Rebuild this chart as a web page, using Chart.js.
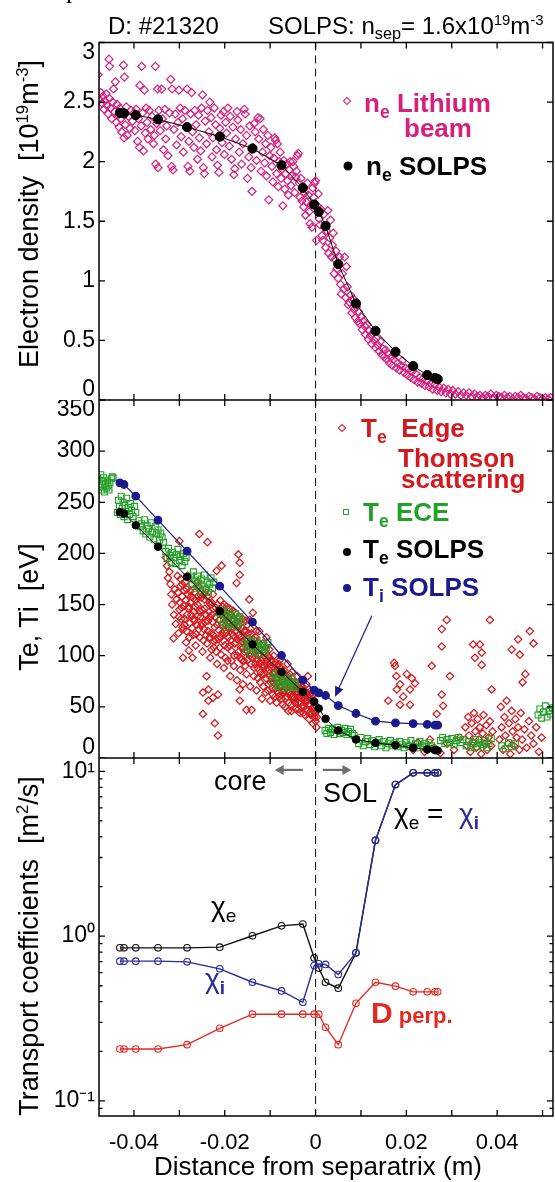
<!DOCTYPE html>
<html>
<head>
<meta charset="utf-8">
<script src="https://cdn.jsdelivr.net/npm/chart.js@4.4.1/dist/chart.umd.min.js"></script>
<style>
  html, body { margin: 0; padding: 0; background: #fff; }
  #fig { position: relative; width: 555px; height: 1182px; overflow: hidden;
         font-family: "Liberation Sans", Arial, sans-serif; color: #000; }
  canvas { position: absolute; left: 0; }
  .t { position: absolute; white-space: nowrap; line-height: 1; z-index: 2; }
  .b { font-weight: bold; }
  .sb { font-size: 0.68em; position: relative; top: 0.32em; }
  .sp { font-size: 0.62em; position: relative; top: -0.6em; }
  .yt { position: absolute; white-space: nowrap; line-height: 1; font-size: 27px;
        transform: translate(-50%, -50%) rotate(-90deg); z-index: 2; }
  .mk { position: absolute; z-index: 2; transform: translate(-50%, -50%); box-sizing: border-box; }
  .dia { width: 6px; height: 6px; border: 1.3px solid; transform: translate(-50%, -50%) rotate(45deg); }
  .sq { width: 6px; height: 6px; border: 1.2px solid; }
  .dot { width: 9px; height: 9px; border-radius: 50%; }
</style>
</head>
<body>
<div id="fig">
  <canvas id="c1" width="555" height="400" style="top:0px"></canvas>
  <canvas id="c2" width="555" height="358" style="top:400px"></canvas>
  <canvas id="c3" width="555" height="424" style="top:758px"></canvas>

  <div class="t" style="left:66px;top:-25px;font:26px 'Liberation Serif',serif;">p</div>
  <div class="t" style="left:108px;top:14px;font-size:24px;">D: #21320</div>
  <div class="t" style="left:268px;top:14px;font-size:24px;">SOLPS: n<span class="sb">sep</span>= 1.6x10<span class="sp">19</span>m<span class="sp">-3</span></div>

  <div class="yt" style="left:29px;top:214px;">Electron density&nbsp;&nbsp;[10<span class="sp">19</span>m<span class="sp">-3</span>]</div>
  <div class="yt" style="left:29px;top:607px;">Te, Ti&nbsp;&nbsp;[eV]</div>
  <div class="yt" style="left:29px;top:946px;">Transport coefficients&nbsp;&nbsp;[m<span class="sp">2</span>/s]</div>
  <div class="t" style="left:318px;top:1153px;font-size:26px;transform:translateX(-50%);">Distance from separatrix (m)</div>

  <!-- panel 1 legend -->
  <div class="mk dia" style="left:347px;top:101px;border-color:#d6207c;"></div>
  <div class="t b" style="left:364px;top:90px;font-size:26px;color:#d6207c;">n<span class="sb">e</span>&nbsp;Lithium</div>
  <div class="t b" style="left:404px;top:115px;font-size:26px;color:#d6207c;">beam</div>
  <div class="mk dot" style="left:348px;top:166px;background:#000;"></div>
  <div class="t b" style="left:366px;top:153px;font-size:26px;">n<span class="sb">e</span>&nbsp;SOLPS</div>

  <!-- panel 2 legend -->
  <div class="mk dia" style="left:342px;top:428px;border-color:#d41a1f;"></div>
  <div class="t b" style="left:361px;top:415px;font-size:26px;color:#d41a1f;">T<span class="sb">e</span>&nbsp;&nbsp;Edge</div>
  <div class="t b" style="left:398px;top:445px;font-size:26px;color:#d41a1f;">Thomson</div>
  <div class="t b" style="left:401px;top:466px;font-size:26px;color:#d41a1f;">scattering</div>
  <div class="mk sq" style="left:346px;top:512px;border-color:#22a027;"></div>
  <div class="t b" style="left:363px;top:499px;font-size:26px;color:#22a027;">T<span class="sb">e</span>&nbsp;ECE</div>
  <div class="mk dot" style="left:347px;top:552px;width:8px;height:8px;background:#000;"></div>
  <div class="t b" style="left:363px;top:536px;font-size:26px;">T<span class="sb">e</span>&nbsp;SOLPS</div>
  <div class="mk dot" style="left:347px;top:588px;width:8px;height:8px;background:#1a1a8c;"></div>
  <div class="t b" style="left:363px;top:574px;font-size:26px;color:#1a1a8c;">T<span class="sb">i</span>&nbsp;SOLPS</div>

  <!-- panel 3 labels -->
  <div class="t" style="left:214px;top:768px;font-size:27px;">core</div>
  <div class="t" style="left:323px;top:780px;font-size:27px;">SOL</div>
  <div class="t" style="left:394px;top:800px;font-size:28px;">χ<span class="sb">e</span> =&nbsp;&nbsp;<span style="color:#2a2a9a;">χ<span class="sb b">i</span></span></div>
  <div class="t" style="left:211px;top:893px;font-size:28px;">χ<span class="sb">e</span></div>
  <div class="t" style="left:205px;top:965px;font-size:28px;color:#2a2a9a;">χ<span class="sb b">i</span></div>
  <div class="t b" style="left:371px;top:998px;font-size:30px;color:#e32a22;">D<span style="font-size:22px;"> perp.</span></div>
</div>

<script>
// ---- tick positions / labels ----
const xTicks = [-0.04, -0.03, -0.02, -0.01, 0, 0.01, 0.02, 0.03, 0.04, 0.05];
const xTickText = ['-0.04', '', '-0.02', '', '0', '', '0.02', '', '0.04', ''];
const neTicks = [0, 0.5, 1, 1.5, 2, 2.5, 3];
const neTickText = [['0', ''], '0.5', '1', '1.5', '2', '2.5', ['', '3']];
const tTicks = [0, 50, 100, 150, 200, 250, 300, 350];
const tTickText = [['0', ''], '50', '100', '150', '200', '250', '300', ['', '350']];
const logTicks = [0.09, 0.1, 0.2, 0.3, 0.4, 0.5, 0.6, 0.7, 0.8, 0.9, 1, 2, 3, 4, 5, 6, 7, 8, 9, 10];
const logTickText = ['', '10⁻¹', '', '', '', '', '', '', '', '', '10⁰', '', '', '', '', '', '', '', '', '10¹'];
const logMajor = [0.1, 1, 10];

// ---- SOLPS radial grid and profiles ----
const solpsX = [-0.0431, -0.0422, -0.0396, -0.0347, -0.0283, -0.0211, -0.0139, -0.0075, -0.0028, -0.0003,
                0.0007, 0.0022, 0.0050, 0.0089, 0.0132, 0.0176, 0.0215, 0.0246, 0.0263, 0.0269];
const neSolps = [2.41, 2.405, 2.39, 2.355, 2.29, 2.21, 2.11, 1.97, 1.78, 1.64,
                 1.58, 1.46, 1.14, 0.81, 0.58, 0.405, 0.285, 0.21, 0.185, 0.175];
const teSolps = [240.3, 239.0, 227.6, 206.5, 177.1, 143.6, 111.0, 84.2, 64.7, 55.2,
                 48.4, 38.3, 26.9, 18.1, 14.8, 12.5, 9.9, 8.3, 7.7, 7.3];
const tiSolps = [269.0, 267.4, 256.0, 232.5, 202.2, 168.0, 132.8, 100.2, 76.1, 66.3,
                 63.7, 61.1, 51.3, 43.5, 36.0, 34.4, 33.7, 32.8, 32.1, 32.1];
const chiE = [0.849, 0.849, 0.849, 0.849, 0.849, 0.857, 1.005, 1.155, 1.183, 0.738,
              0.64, 0.525, 0.483, 0.792, 3.815, 8.31, 9.79, 9.79, 9.79, 9.79];
const chiI = [0.705, 0.705, 0.705, 0.705, 0.698, 0.633, 0.525, 0.465, 0.397, 0.663,
              0.679, 0.673, 0.585, 0.792, 3.815, 8.31, 9.79, 9.79, 9.79, 9.79];
const dPerp = [0.2066, 0.2066, 0.2066, 0.2066, 0.2195, 0.276, 0.336, 0.336, 0.336, 0.336,
               0.336, 0.280, 0.2195, 0.391, 0.525, 0.497, 0.459, 0.459, 0.459, 0.459];

// ---- Lithium beam ne [x (m), ne (1e19 m^-3)] ----
const liBeam = [
  [-0.0479,2.73],[-0.0476,2.52],[-0.0473,2.58],[-0.0470,2.49],[-0.0468,2.55],[-0.0466,2.44],[-0.0464,2.51],[-0.0461,2.57],
  [-0.0459,2.47],[-0.0457,2.40],[-0.0455,2.86],[-0.0454,2.80],[-0.0454,2.53],[-0.0451,2.45],[-0.0449,2.36],[-0.0447,2.50],
  [-0.0445,2.61],[-0.0443,2.42],[-0.0441,2.67],[-0.0439,2.33],[-0.0437,2.48],[-0.0435,2.39],[-0.0433,2.29],[-0.0431,2.45],
  [-0.0429,2.36],[-0.0427,2.25],[-0.0425,2.42],[-0.0423,2.81],[-0.0422,2.20],[-0.0421,2.71],[-0.0419,2.31],[-0.0417,2.46],
  [-0.0415,2.22],[-0.0412,2.38],[-0.0409,2.28],[-0.0406,2.43],[-0.0403,2.34],[-0.0400,2.41],
  [-0.0398,2.26],[-0.0395,2.44],[-0.0392,2.17],[-0.0390,2.36],[-0.0388,2.12],[-0.0387,2.64],[-0.0384,2.30],[-0.0383,2.80],
  [-0.0381,2.41],[-0.0379,2.09],[-0.0377,2.60],[-0.0375,2.24],[-0.0373,2.45],[-0.0371,2.33],[-0.0369,2.19],[-0.0366,2.43],
  [-0.0363,2.27],[-0.0360,2.38],[-0.0357,2.15],[-0.0355,2.22],[-0.0353,2.80],[-0.0352,1.98],[-0.0350,2.32],[-0.0348,2.61],
  [-0.0347,1.95],[-0.0345,2.43],[-0.0342,2.26],[-0.0339,2.61],[-0.0337,2.36],[-0.0335,2.10],[-0.0332,2.44],[-0.0330,2.19],
  [-0.0328,2.30],[-0.0325,2.05],[-0.0322,2.41],[-0.0319,2.69],[-0.0317,1.96],[-0.0316,2.61],[-0.0314,1.93],[-0.0312,2.27],
  [-0.0309,2.40],[-0.0306,2.14],[-0.0303,2.33],[-0.0301,2.60],
  [-0.0298,2.45],[-0.0296,2.21],[-0.0293,2.36],[-0.0291,2.08],[-0.0288,2.43],[-0.0285,2.29],[-0.0283,2.61],[-0.0281,1.96],
  [-0.0279,2.17],[-0.0277,1.92],[-0.0275,2.40],[-0.0273,2.58],[-0.0271,2.25],[-0.0268,2.12],[-0.0266,2.43],[-0.0263,2.31],
  [-0.0260,2.02],[-0.0258,2.39],[-0.0256,2.20],[-0.0253,2.09],[-0.0251,2.45],[-0.0249,2.56],[-0.0247,1.95],[-0.0245,1.90],
  [-0.0243,2.34],[-0.0240,2.15],[-0.0238,2.43],[-0.0235,2.25],[-0.0233,2.50],[-0.0230,2.37],[-0.0228,2.04],[-0.0226,2.20],
  [-0.0223,2.45],[-0.0220,2.31],[-0.0218,2.10],[-0.0216,1.97],[-0.0213,1.91],[-0.0211,2.28],[-0.0208,2.39],[-0.0206,2.16],
  [-0.0203,2.42],[-0.0201,2.06],
  [-0.0198,2.33],[-0.0196,2.24],[-0.0193,2.45],[-0.0190,2.13],[-0.0188,2.38],[-0.0185,2.02],[-0.0182,2.29],[-0.0180,1.89],
  [-0.0178,1.94],[-0.0176,2.19],[-0.0173,2.42],[-0.0171,2.35],[-0.0168,2.08],[-0.0165,2.27],[-0.0163,1.98],[-0.0160,2.15],
  [-0.0157,2.44],[-0.0155,2.40],[-0.0152,2.22],[-0.0150,1.86],[-0.0147,2.04],[-0.0145,2.30],[-0.0142,1.95],[-0.0140,1.75],
  [-0.0138,2.12],[-0.0135,2.32],[-0.0133,2.25],[-0.0130,2.01],[-0.0127,2.37],[-0.0125,2.19],[-0.0122,2.36],[-0.0120,1.92],
  [-0.0117,2.08],[-0.0115,2.27],[-0.0112,1.99],[-0.0110,2.15],[-0.0108,1.88],[-0.0105,2.22],[-0.0103,1.68],[-0.0101,2.05],
  [-0.0098,2.12],[-0.0096,1.96],[-0.0094,1.83],[-0.0092,2.03],[-0.0090,2.20],[-0.0088,2.18],[-0.0086,1.90],[-0.0084,2.15],
  [-0.0082,1.79],[-0.0080,2.00],[-0.0078,2.08],[-0.0076,1.86],[-0.0074,1.94],[-0.0072,1.63],[-0.0070,2.01],[-0.0068,1.77],
  [-0.0066,1.90],[-0.0064,1.98],[-0.0062,1.84],[-0.0060,1.72],[-0.0058,1.93],[-0.0056,2.00],[-0.0054,1.80],[-0.0052,1.88],
  [-0.0050,2.00],[-0.0048,1.96],[-0.0046,1.74],[-0.0044,1.87],[-0.0042,1.92],[-0.0040,2.05],[-0.0038,2.07],[-0.0036,1.82],
  [-0.0034,1.70],[-0.0032,1.86],[-0.0030,1.67],[-0.0028,1.78],[-0.0026,1.62],[-0.0024,1.74],[-0.0022,1.55],[-0.0020,1.66],
  [-0.0018,1.82],[-0.0016,1.72],[-0.0014,1.58],[-0.0012,1.48],[-0.0010,1.64],[-0.0008,1.45],[-0.0006,1.78],[-0.0004,1.70],
  [-0.0002,1.82],[0.0000,1.84],
  [0.0002,1.34],[0.0004,1.63],[0.0006,1.73],[0.0008,1.52],[0.0010,1.47],[0.0012,1.60],[0.0014,1.38],[0.0016,1.34],
  [0.0018,1.56],[0.0020,1.45],[0.0022,1.28],[0.0024,1.42],[0.0027,1.59],[0.0029,1.23],[0.0031,1.36],[0.0033,1.51],
  [0.0035,1.20],[0.0037,1.30],[0.0039,1.40],[0.0041,1.06],[0.0043,1.18],[0.0045,1.25],[0.0047,1.10],[0.0050,1.02],
  [0.0053,1.20],[0.0055,0.97],[0.0057,0.89],[0.0059,1.06],[0.0062,0.93],[0.0064,1.20],[0.0066,0.86],[0.0068,1.12],
  [0.0070,0.95],[0.0072,0.80],[0.0075,0.82],[0.0077,0.88],[0.0080,0.73],[0.0083,0.85],[0.0085,0.76],[0.0088,0.69],
  [0.0090,0.78],[0.0093,0.66],[0.0095,0.74],[0.0097,0.64],[0.0100,0.70],
  [0.0103,0.59],[0.0105,0.66],[0.0108,0.62],[0.0110,0.55],[0.0113,0.63],[0.0116,0.51],[0.0118,0.58],[0.0121,0.54],
  [0.0124,0.47],[0.0126,0.56],[0.0129,0.50],[0.0132,0.44],[0.0134,0.52],[0.0137,0.46],[0.0140,0.41],[0.0143,0.49],
  [0.0146,0.38],[0.0148,0.43],[0.0151,0.36],[0.0154,0.42],[0.0157,0.34],[0.0160,0.39],[0.0163,0.31],[0.0166,0.36],
  [0.0169,0.29],[0.0172,0.34],[0.0175,0.38],[0.0178,0.27],[0.0181,0.31],[0.0185,0.25],[0.0188,0.29],[0.0191,0.33],
  [0.0195,0.23],[0.0198,0.27],
  [0.0202,0.21],[0.0205,0.26],[0.0209,0.19],[0.0213,0.24],[0.0217,0.17],[0.0221,0.22],[0.0225,0.15],[0.0229,0.19],
  [0.0233,0.14],[0.0237,0.18],[0.0241,0.12],[0.0245,0.16],[0.0250,0.11],[0.0254,0.14],[0.0258,0.09],[0.0263,0.13],
  [0.0268,0.08],[0.0272,0.11],[0.0277,0.07],[0.0282,0.10],[0.0287,0.06],[0.0292,0.09],[0.0297,0.05],[0.0302,0.08],
  [0.0308,0.05],[0.0314,0.07],[0.0320,0.04],[0.0326,0.06],[0.0332,0.04],[0.0338,0.06],[0.0344,0.03],
  [0.0350,0.05],[0.0356,0.03],[0.0362,0.04],[0.0368,0.02],[0.0374,0.04],[0.0380,0.03],[0.0386,0.05],[0.0392,0.02],
  [0.0398,0.04],[0.0404,0.03],[0.0410,0.02],[0.0416,0.04],[0.0422,0.02],[0.0428,0.03],[0.0434,0.01],[0.0440,0.03],
  [0.0446,0.02],[0.0452,0.04],[0.0458,0.02],[0.0464,0.01],[0.0470,0.03],[0.0476,0.02],[0.0482,0.01],[0.0488,0.03],
  [0.0494,0.02],[0.0500,0.01],[0.0506,0.02],[0.0512,0.01],[0.0518,0.02]
];

// ---- Edge Thomson scattering Te [x (m), eV] ----
const thomson = [
  [-0.0330,196],[-0.0327,188],[-0.0325,176],[-0.0322,182],[-0.0320,170],[-0.0318,160],[-0.0316,150],[-0.0313,117],
  [-0.0312,140],[-0.0310,165],[-0.0308,131],[-0.0306,155],[-0.0304,178],[-0.0302,122],[-0.0300,212],[-0.0300,145],
  [-0.0298,168],[-0.0296,136],[-0.0294,158],[-0.0292,98],[-0.0291,126],[-0.0289,149],[-0.0287,172],[-0.0285,113],
  [-0.0283,140],[-0.0281,160],[-0.0279,105],[-0.0277,132],[-0.0275,152],[-0.0273,170],[-0.0271,98],[-0.0270,120],
  [-0.0268,143],[-0.0266,162],[-0.0264,110],[-0.0262,130],[-0.0260,150],[-0.0258,168],[-0.0256,219],[-0.0255,118],
  [-0.0253,138],[-0.0251,157],[-0.0249,104],[-0.0248,64],[-0.0248,43],[-0.0246,126],[-0.0244,146],[-0.0242,165],
  [-0.0240,80],[-0.0239,112],[-0.0238,211],[-0.0237,134],[-0.0236,67],[-0.0236,56],[-0.0234,152],[-0.0232,98],
  [-0.0230,122],[-0.0228,140],[-0.0226,59],[-0.0226,160],[-0.0224,108],[-0.0222,34],[-0.0222,128],[-0.0220,147],
  [-0.0218,183],[-0.0217,92],[-0.0215,62],[-0.0215,22],[-0.0214,116],[-0.0212,135],[-0.0210,154],[-0.0208,101],
  [-0.0207,188],[-0.0206,122],[-0.0204,142],[-0.0202,88],[-0.0200,110],
  [-0.0198,130],[-0.0196,148],[-0.0194,95],[-0.0192,118],[-0.0190,137],[-0.0188,80],[-0.0186,105],[-0.0184,126],
  [-0.0182,144],[-0.0180,90],[-0.0178,112],[-0.0176,132],[-0.0174,171],[-0.0173,76],[-0.0172,100],[-0.0170,120],
  [-0.0170,199],[-0.0168,138],[-0.0167,191],[-0.0167,179],[-0.0167,67],[-0.0167,56],[-0.0166,86],[-0.0164,108],
  [-0.0162,127],[-0.0160,72],[-0.0158,95],[-0.0156,116],[-0.0154,134],[-0.0152,47],[-0.0152,82],[-0.0150,104],
  [-0.0148,122],[-0.0146,155],[-0.0145,135],[-0.0144,70],[-0.0142,92],[-0.0141,47],[-0.0140,112],[-0.0138,142],
  [-0.0136,80],[-0.0134,100],[-0.0132,118],
  [-0.0130,66],[-0.0128,88],[-0.0126,106],[-0.0124,124],[-0.0122,74],[-0.0120,95],[-0.0118,58],[-0.0116,112],
  [-0.0114,82],[-0.0112,100],[-0.0110,64],[-0.0108,118],[-0.0106,88],[-0.0104,72],[-0.0102,106],[-0.0100,56],
  [-0.0098,94],[-0.0096,78],[-0.0094,62],[-0.0092,100],[-0.0090,84],[-0.0088,68],[-0.0086,54],[-0.0084,90],
  [-0.0082,74],[-0.0080,60],[-0.0078,96],[-0.0076,80],[-0.0074,66],[-0.0072,52],[-0.0070,86],[-0.0068,72],
  [-0.0066,58],[-0.0064,80],[-0.0062,92],[-0.0060,46],
  [-0.0058,64],[-0.0056,76],[-0.0054,52],[-0.0052,84],[-0.0050,68],[-0.0048,58],[-0.0046,74],[-0.0044,48],
  [-0.0042,62],[-0.0040,80],[-0.0038,54],[-0.0036,68],[-0.0034,44],[-0.0032,76],[-0.0030,58],[-0.0028,51],
  [-0.0026,66],[-0.0024,42],[-0.0022,56],[-0.0020,72],[-0.0018,46],[-0.0017,80],[-0.0016,60],[-0.0014,38],
  [-0.0012,52],[-0.0010,66],[-0.0008,44],[-0.0006,34],[-0.0004,56],[-0.0002,40],[0.0000,36],[0.0002,30],[0.0005,48],
  [-0.0303,162],[-0.0301,138],[-0.0297,175],[-0.0295,147],[-0.0293,128],[-0.0290,164],[-0.0288,136],[-0.0286,154],
  [-0.0284,124],[-0.0282,178],[-0.0280,146],[-0.0278,118],[-0.0276,163],[-0.0274,140],[-0.0272,127],[-0.0269,156],
  [-0.0267,134],[-0.0265,148],[-0.0263,121],[-0.0261,172],[-0.0259,139],[-0.0257,126],[-0.0254,160],[-0.0252,129],
  [-0.0250,145],[-0.0247,115],[-0.0245,155],[-0.0243,133],[-0.0241,120],[-0.0239,158],[-0.0235,143],[-0.0233,118],
  [-0.0231,150],[-0.0229,106],[-0.0227,133],[-0.0225,146],[-0.0223,114],[-0.0221,138],[-0.0219,104],[-0.0216,150],
  [-0.0213,125],[-0.0211,108],[-0.0209,140],[-0.0205,130],[-0.0203,115],[-0.0201,150],[-0.0199,98],[-0.0197,122],
  [-0.0195,138],[-0.0193,108],[-0.0191,128],[-0.0189,146],[-0.0187,115],[-0.0185,95],[-0.0183,134],[-0.0181,120],
  [-0.0179,100],[-0.0177,142],[-0.0175,113],[-0.0171,128],[-0.0169,104],[-0.0165,118],[-0.0163,96],[-0.0161,136],
  [-0.0159,108],[-0.0157,124],[-0.0155,90],[-0.0153,114],[-0.0151,130],[-0.0149,96],[-0.0147,110],[-0.0143,126],
  [-0.0139,98],[-0.0137,116],[-0.0135,88],[-0.0133,108],[-0.0131,124],[-0.0129,96],[-0.0127,78],[-0.0125,112],
  [-0.0123,92],[-0.0121,106],[-0.0119,82],[-0.0117,98],[-0.0115,70],[-0.0113,90],[-0.0111,108],[-0.0109,78],
  [-0.0107,96],[-0.0105,66],[-0.0103,86],[-0.0101,98],[-0.0099,74],[-0.0097,88],[-0.0095,68],[-0.0093,82],
  [-0.0091,92],[-0.0089,60],[-0.0087,78],[-0.0085,86],[-0.0083,64],[-0.0081,82],[-0.0079,70],[-0.0077,88],
  [-0.0075,58],[-0.0073,76],[-0.0071,64],[-0.0069,80],[-0.0067,50],[-0.0065,70],[-0.0063,60],[-0.0061,74],
  [-0.0059,54],[-0.0057,70],[-0.0055,62],[-0.0053,46],[-0.0051,74],[-0.0049,60],[-0.0047,66],[-0.0045,54],
  [-0.0043,70],[-0.0041,58],[-0.0039,64],[-0.0037,48],[-0.0035,60],[-0.0033,68],[-0.0031,50],[-0.0029,62],
  [-0.0027,44],[-0.0025,58],[-0.0023,64],[-0.0021,48],[-0.0019,60],[-0.0015,52],[-0.0013,62],[-0.0011,42],
  [-0.0009,56],[-0.0007,48],[-0.0005,62],[-0.0003,46],[-0.0001,52],
  [-0.0299,152],[-0.0294,170],[-0.0289,130],[-0.0284,165],[-0.0279,148],[-0.0274,158],[-0.0269,136],[-0.0264,154],
  [-0.0259,158],[-0.0255,143],[-0.0250,132],[-0.0246,160],[-0.0241,140],[-0.0237,124],[-0.0233,138],[-0.0229,152],
  [-0.0225,120],[-0.0221,116],[-0.0217,130],[-0.0213,145],[-0.0209,118],[-0.0205,148],[-0.0201,124],[-0.0197,140],
  [-0.0193,132],[-0.0189,110],[-0.0185,122],[-0.0181,136],[-0.0177,124],[-0.0173,116],[-0.0169,130],[-0.0165,98],
  [-0.0161,114],[-0.0157,104],[-0.0153,124],[-0.0149,116],[-0.0145,100],[-0.0141,122],[-0.0137,104],[-0.0133,92],
  [-0.0129,110],[-0.0125,100],[-0.0121,84],[-0.0117,90],[-0.0113,104],[-0.0109,92],[-0.0105,100],[-0.0101,80],
  [-0.0097,96],[-0.0093,74],[-0.0089,88],[-0.0085,78],[-0.0081,92],[-0.0077,62],[-0.0073,84],[-0.0069,66],
  [-0.0065,78],[-0.0061,66],[-0.0057,82],[-0.0053,60],[-0.0049,72],[-0.0045,64],[-0.0041,70],[-0.0037,60],
  [-0.0033,54],[-0.0029,70],[-0.0025,50],[-0.0021,64],[-0.0017,56],[-0.0013,44],[-0.0009,60],[-0.0005,50],
  [-0.0001,44],[0.0003,40],
  [0.0160,56],[0.0173,93],[0.0175,90],[0.0178,80],[0.0179,67],[0.0186,72],[0.0186,52],[0.0193,60],[0.0201,82],
  [0.0208,67],[0.0208,52],[0.0212,78],[0.0219,73],[0.0256,90],[0.0267,43],[0.0278,126],[0.0278,109],[0.0278,62],
  [0.0281,51],[0.0289,135],[0.0296,80],[0.0347,111],[0.0351,98],[0.0362,111],[0.0366,103],[0.0366,91],[0.0384,135],
  [0.0388,67],[0.0432,106],[0.0446,116],[0.0450,101],[0.0456,74],[0.0462,82],[0.0472,124],[0.0480,112],
  [0.0205,12],[0.0215,8],[0.0225,15],[0.0240,6],[0.0252,18],[0.0262,10],[0.0275,5],[0.0290,14],[0.0305,8],[0.0318,20],
  [0.0330,30],[0.0333,12],[0.0336,40],[0.0338,22],[0.0341,6],[0.0344,34],[0.0346,16],[0.0349,44],[0.0352,26],
  [0.0354,10],[0.0357,38],[0.0360,18],[0.0362,30],[0.0365,4],[0.0368,24],[0.0370,42],[0.0373,14],[0.0376,32],
  [0.0378,8],[0.0381,20],[0.0384,36],[0.0387,12],[0.0390,26],
  [0.0405,18],[0.0408,50],[0.0410,30],[0.0413,8],[0.0416,40],[0.0418,22],[0.0421,56],[0.0424,14],[0.0426,34],
  [0.0429,4],[0.0432,46],[0.0434,26],[0.0437,12],[0.0440,38],[0.0443,20],[0.0446,30],[0.0449,8],[0.0452,44],
  [0.0455,18],[0.0460,28],[0.0465,10],[0.0470,36],[0.0475,22],[0.0480,14],[0.0486,30],[0.0492,6],[0.0498,20]
];

// ---- ECE Te [x (m), eV] ----
const ece = [
  [-0.0481,258],[-0.0479,272],[-0.0477,265],[-0.0475,267],[-0.0473,277],[-0.0471,262],[-0.0469,270],[-0.0467,274],
  [-0.0465,260],[-0.0463,268],[-0.0461,264],[-0.0459,271],[-0.0457,266],[-0.0455,262],[-0.0453,269],[-0.0450,273],
  [-0.0448,275],[-0.0446,274],
  [-0.0436,240],[-0.0434,252],[-0.0432,246],[-0.0430,238],[-0.0428,256],[-0.0426,244],[-0.0424,250],[-0.0422,236],
  [-0.0420,247],[-0.0418,241],[-0.0416,254],[-0.0414,233],[-0.0412,245],[-0.0410,238],[-0.0408,249],[-0.0405,242],
  [-0.0402,236],[-0.0399,246],[-0.0396,240],
  [-0.0389,232],[-0.0386,226],[-0.0383,229],[-0.0380,222],[-0.0377,233],[-0.0374,219],[-0.0371,227],[-0.0368,224],
  [-0.0365,216],[-0.0362,230],[-0.0359,221],[-0.0356,214],[-0.0353,226],[-0.0350,219],[-0.0347,223],[-0.0344,213],
  [-0.0341,220],[-0.0338,216],[-0.0335,211],
  [-0.0330,202],[-0.0327,195],[-0.0324,205],[-0.0321,198],[-0.0318,191],[-0.0315,201],[-0.0312,196],[-0.0309,190],
  [-0.0306,199],[-0.0303,204],[-0.0300,193],[-0.0297,197],[-0.0294,188],[-0.0291,200],[-0.0288,192],[-0.0285,196],
  [-0.0275,178],[-0.0272,170],[-0.0269,182],[-0.0266,174],[-0.0263,166],[-0.0260,178],[-0.0257,171],[-0.0254,163],
  [-0.0251,175],[-0.0248,168],[-0.0245,179],[-0.0242,165],[-0.0239,172],[-0.0236,162],[-0.0233,170],[-0.0230,176],
  [-0.0227,166],[-0.0224,172],
  [-0.0212,142],[-0.0209,136],[-0.0206,145],[-0.0203,132],[-0.0200,140],[-0.0197,128],[-0.0194,137],[-0.0191,143],
  [-0.0188,131],[-0.0185,139],[-0.0182,134],[-0.0179,128],[-0.0176,141],[-0.0173,136],[-0.0170,130],[-0.0167,138],
  [-0.0164,133],
  [-0.0156,112],[-0.0153,106],[-0.0150,116],[-0.0147,109],[-0.0144,103],[-0.0141,114],[-0.0138,107],[-0.0135,111],
  [-0.0132,104],[-0.0129,115],[-0.0126,108],[-0.0123,102],[-0.0120,112],[-0.0117,106],[-0.0114,110],[-0.0111,103],
  [-0.0108,108],[-0.0105,113],
  [-0.0094,80],[-0.0091,74],[-0.0088,82],[-0.0085,70],[-0.0082,77],[-0.0079,72],[-0.0076,80],[-0.0073,68],
  [-0.0070,75],[-0.0067,79],[-0.0064,71],[-0.0061,76],[-0.0058,69],[-0.0055,74],[-0.0052,78],[-0.0049,70],
  [-0.0046,73],[-0.0043,69],
  [0.0021,27],[0.0025,24],[0.0029,29],[0.0033,25],[0.0037,28],[0.0041,23],[0.0045,27],[0.0049,30],[0.0053,24],
  [0.0057,27],[0.0061,25],[0.0065,29],[0.0069,23],[0.0073,26],[0.0077,28],[0.0081,24],[0.0085,22],
  [0.0090,18],[0.0095,14],[0.0100,20],[0.0105,12],[0.0110,16],[0.0115,19],[0.0120,13],[0.0125,17],[0.0130,11],
  [0.0135,15],[0.0140,18],[0.0145,12],[0.0150,16],[0.0155,10],[0.0160,14],[0.0165,17],[0.0170,12],[0.0175,15],
  [0.0180,11],[0.0185,16],[0.0190,13],[0.0195,10],[0.0200,15],[0.0205,12],[0.0210,17],[0.0215,11],[0.0220,14],
  [0.0225,10],[0.0230,16],[0.0235,12],[0.0240,14],[0.0245,11],[0.0250,15],[0.0255,12],[0.0260,9],
  [0.0275,17],[0.0280,20],[0.0285,14],[0.0290,18],[0.0295,15],[0.0300,19],[0.0305,13],[0.0310,17],[0.0315,20],
  [0.0320,15],[0.0325,18],
  [0.0332,12],[0.0337,16],[0.0342,10],[0.0347,14],[0.0352,18],[0.0357,11],[0.0362,15],[0.0367,13],[0.0372,17],
  [0.0377,10],[0.0382,14],[0.0387,19],
  [0.0410,12],[0.0418,9],[0.0425,15],[0.0432,11],[0.0440,14],
  [0.0490,42],[0.0494,48],[0.0498,39],[0.0502,45],[0.0506,51],[0.0510,40],[0.0514,46],[0.0518,43],[0.0522,49]
];

// annotation arrows, in data coordinates
const tiArrow = { from: [0.0124, 139], to: [0.0043, 60] };
const coreArrow = { from: [-0.0028, 10.2], to: [-0.0090, 10.2] };
const solArrow = { from: [0.0016, 10.2], to: [0.0079, 10.2] };

const X_MIN = -0.0477, X_MAX = 0.0523;
const FONT = '"Liberation Sans", Arial, sans-serif';

const pts = (xs, ys) => xs.map((x, i) => ({ x, y: ys[i] }));
const pairs = (arr) => arr.map(([x, y]) => ({ x, y }));

function arrow(ctx, x1, y1, x2, y2, color, lw, hl, hw) {
  const a = Math.atan2(y2 - y1, x2 - x1);
  ctx.save();
  ctx.strokeStyle = color; ctx.fillStyle = color; ctx.lineWidth = lw; ctx.setLineDash([]);
  ctx.beginPath();
  ctx.moveTo(x1, y1);
  ctx.lineTo(x2 - Math.cos(a) * hl * 0.8, y2 - Math.sin(a) * hl * 0.8);
  ctx.stroke();
  ctx.beginPath();
  ctx.moveTo(x2, y2);
  ctx.lineTo(x2 - Math.cos(a) * hl - Math.sin(a) * hw, y2 - Math.sin(a) * hl + Math.cos(a) * hw);
  ctx.lineTo(x2 - Math.cos(a) * hl + Math.sin(a) * hw, y2 - Math.sin(a) * hl - Math.cos(a) * hw);
  ctx.closePath();
  ctx.fill();
  ctx.restore();
}

// box, inward ticks, dashed separatrix, arrows
const framePlugin = {
  id: 'frame',
  beforeDatasetsDraw(chart) {
    const { ctx, chartArea: a, scales } = chart;
    const p = scales.x.getPixelForValue(0);
    ctx.save();
    ctx.strokeStyle = '#222';
    ctx.lineWidth = 1.1;
    ctx.setLineDash([8, 5]);
    ctx.beginPath();
    ctx.moveTo(p, a.top);
    ctx.lineTo(p, a.bottom);
    ctx.stroke();
    ctx.restore();
  },
  afterDraw(chart, args, o) {
    const { ctx, chartArea: a, scales } = chart;
    ctx.save();
    ctx.strokeStyle = '#000';
    ctx.lineWidth = 1.3;
    ctx.beginPath();
    xTicks.forEach((v) => {
      const p = scales.x.getPixelForValue(v);
      ctx.moveTo(p, a.top); ctx.lineTo(p, a.top + 6);
      ctx.moveTo(p, a.bottom); ctx.lineTo(p, a.bottom - 6);
    });
    (o.yTicks || []).forEach((v) => {
      const p = scales.y.getPixelForValue(v);
      const L = o.major && !o.major.includes(v) ? 3.5 : 6;
      ctx.moveTo(a.left, p); ctx.lineTo(a.left + L, p);
      ctx.moveTo(a.right, p); ctx.lineTo(a.right - L, p);
    });
    ctx.stroke();
    ctx.lineWidth = 1.5;
    ctx.strokeRect(a.left, a.top, a.right - a.left, a.bottom - a.top);
    ctx.restore();
    (o.arrows || []).forEach((ar) => {
      arrow(ctx,
        scales.x.getPixelForValue(ar.from[0]), scales.y.getPixelForValue(ar.from[1]),
        scales.x.getPixelForValue(ar.to[0]), scales.y.getPixelForValue(ar.to[1]),
        ar.color, ar.width, ar.hl, ar.hw);
    });
  }
};

function xScale(showLabels) {
  return {
    type: 'linear', min: X_MIN, max: X_MAX, display: showLabels,
    afterBuildTicks: (s) => { s.ticks = xTicks.map((v) => ({ value: v })); },
    afterFit: (s) => {
      s.height = showLabels ? 66 : 0;
      s.paddingLeft = 0; s.paddingRight = 0;
    },
    grid: { display: false, drawTicks: false },
    border: { display: false },
    ticks: {
      color: '#000', padding: 14, maxRotation: 0, autoSkip: false,
      font: { family: FONT, size: 22 },
      callback: (v, i) => xTickText[i]
    }
  };
}

function yScale(type, min, max, ticks, text) {
  return {
    type, min, max,
    afterBuildTicks: (s) => { s.ticks = ticks.map((v) => ({ value: v })); },
    afterFit: (s) => {
      s.width = 99;
      s.paddingTop = 0; s.paddingBottom = 0;
    },
    grid: { display: false, drawTicks: false },
    border: { display: false },
    ticks: {
      color: '#000', padding: 4, autoSkip: false,
      font: { family: FONT, size: 23, lineHeight: 0.86 },
      callback: (v, i) => text[i]
    }
  };
}

function makeChart(id, datasets, y, frame, padTop, showX) {
  return new Chart(document.getElementById(id), {
    type: 'scatter',
    data: { datasets },
    options: {
      responsive: false,
      animation: false,
      events: [],
      layout: { autoPadding: false, padding: { top: padTop, right: 2, left: 0, bottom: 0 } },
      plugins: { legend: { display: false }, tooltip: { enabled: false }, frame },
      scales: { x: xScale(showX), y }
    },
    plugins: [framePlugin]
  });
}

const MAGENTA = '#d6207c', RED = '#d41a1f', GREEN = '#22a027', NAVY = '#1a1a8c',
      CHI_BLUE = '#2a2a9a', D_RED = '#e32a22';

// panel 1: electron density
makeChart('c1', [
  { data: pts(solpsX, neSolps), showLine: true, borderColor: '#000', borderWidth: 1,
    pointRadius: 4.6, pointBackgroundColor: '#000', pointBorderColor: '#000' },
  { data: pairs(liBeam), pointStyle: 'rectRot', pointRadius: 4, borderWidth: 1.2,
    pointBorderColor: MAGENTA, pointBackgroundColor: 'rgba(0,0,0,0)' }
], yScale('linear', 0, 3, neTicks, neTickText), { yTicks: neTicks }, 42.5, false);

// panel 2: temperatures
makeChart('c2', [
  { data: pts(solpsX, tiSolps), showLine: true, borderColor: NAVY, borderWidth: 1.2,
    pointRadius: 3.8, pointBackgroundColor: NAVY, pointBorderColor: NAVY },
  { data: pts(solpsX, teSolps), showLine: true, borderColor: '#000', borderWidth: 1,
    pointRadius: 3.8, pointBackgroundColor: '#000', pointBorderColor: '#000' },
  { data: pairs(ece), pointStyle: 'rect', pointRadius: 4.2, borderWidth: 1.1,
    pointBorderColor: GREEN, pointBackgroundColor: 'rgba(0,0,0,0)' },
  { data: pairs(thomson), pointStyle: 'rectRot', pointRadius: 3.7, borderWidth: 1.25,
    pointBorderColor: RED, pointBackgroundColor: 'rgba(0,0,0,0)' }
], yScale('linear', 0, 350, tTicks, tTickText),
  { yTicks: tTicks, arrows: [Object.assign({ color: NAVY, width: 1.2, hl: 10, hw: 4.5 }, tiArrow)] }, 0, false);

// panel 3: transport coefficients
makeChart('c3', [
  { data: pts(solpsX, chiI), showLine: true, borderColor: CHI_BLUE, borderWidth: 1.4,
    pointRadius: 3.3, pointBorderWidth: 1.1, pointBorderColor: CHI_BLUE, pointBackgroundColor: 'rgba(0,0,0,0)' },
  { data: pts(solpsX, chiE), showLine: true, borderColor: '#111', borderWidth: 1.4,
    pointRadius: 3.3, pointBorderWidth: 1.1, pointBorderColor: '#111', pointBackgroundColor: 'rgba(0,0,0,0)' },
  { data: pts(solpsX, dPerp), showLine: true, borderColor: D_RED, borderWidth: 1.4,
    pointRadius: 3.3, pointBorderWidth: 1.1, pointBorderColor: D_RED, pointBackgroundColor: 'rgba(0,0,0,0)' }
], yScale('logarithmic', 0.081, 12.05, logTicks, logTickText),
  { yTicks: logTicks, major: logMajor,
    arrows: [Object.assign({ color: '#6e6e6e', width: 2.2, hl: 9, hw: 5 }, coreArrow),
             Object.assign({ color: '#6e6e6e', width: 2.2, hl: 9, hw: 5 }, solArrow)] }, 0, true);
</script>
</body>
</html>
